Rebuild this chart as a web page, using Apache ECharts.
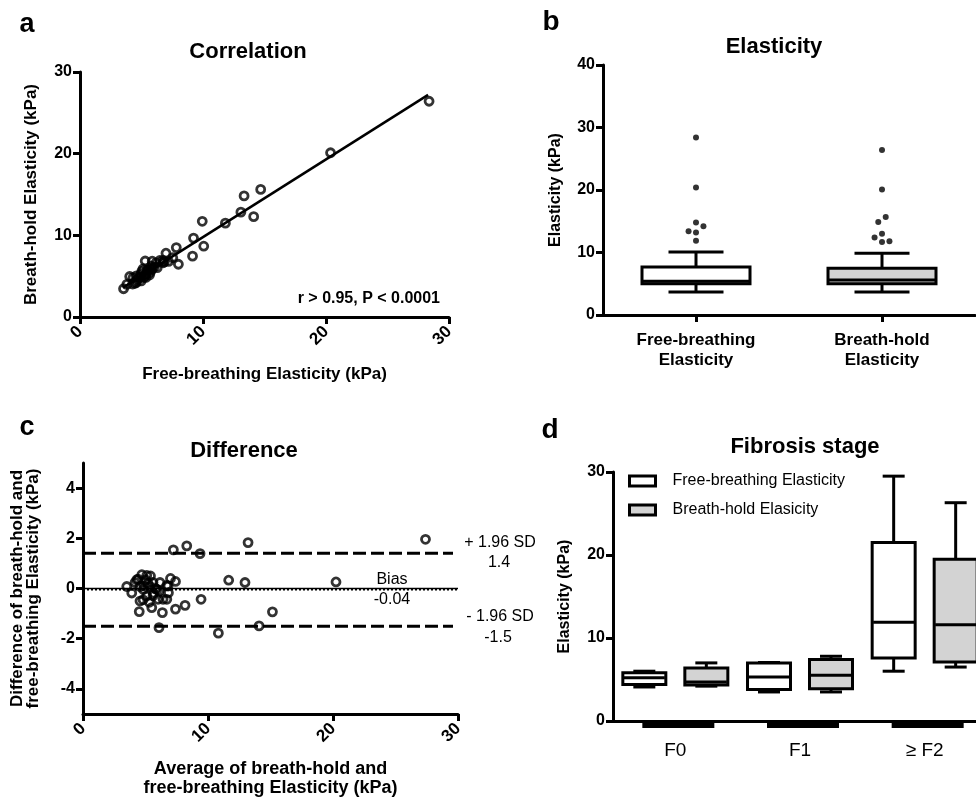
<!DOCTYPE html>
<html><head><meta charset="utf-8">
<script src="https://cdn.jsdelivr.net/npm/echarts@6/dist/echarts.min.js"></script>
<style>html,body{margin:0;padding:0;background:#fff}#c{width:976px;height:798px}</style>
</head><body><div id="c"></div>
<script>
// ---- Panel a / c : paired measurements (kPa) ----
const freeBreathing = [28.38,20.37,14.12,13.08,11.82,13.34,14.69,9.94,10.06,9.15,8.00,9.23,7.83,6.99,5.87,5.30,4.04,7.20,7.54,6.76,6.28,3.54,3.81,4.31,5.36,4.98,5.65,4.48,5.54,5.12,6.49,6.75,5.79,4.95,4.81,5.40,5.88,4.60,5.30,4.28,4.58,5.46,6.05,5.72,4.59,6.85,5.18,5.03,4.95,5.80,6.19];
const breathHold    = [26.42,20.11,12.29,12.84,11.49,14.83,15.62,11.72,8.67,7.45,6.46,9.66,8.50,7.81,6.83,6.86,4.96,6.80,7.26,6.64,6.04,3.46,3.99,4.81,4.84,4.43,5.15,4.13,5.73,5.88,6.92,6.92,6.22,5.25,4.85,5.32,5.92,4.52,5.10,4.04,5.03,5.75,6.15,5.48,4.22,6.75,4.83,5.58,4.85,5.80,6.62];
const fitLineX = [3.5, 28.3];
const fitLineY = [3.6, 27.2];
const corrText = 'r > 0.95, P < 0.0001';

// ---- Panel b : box plots (min, Q1, median, Q3, max) ----
const boxCategories = ['Free-breathing\nElasticity', 'Breath-hold\nElasticity'];
const boxStats = [[3.7, 5.0, 5.4, 7.7, 10.1], [3.7, 5.0, 5.6, 7.5, 9.9]];
const outliersFree   = [[0, 28.4], [0, 20.4], [0, 14.8], [0.04, 14.2], [-0.04, 13.4], [0, 13.2], [0, 11.9]];
const outliersBreath = [[1, 26.4], [1, 20.1], [1.02, 15.7], [0.98, 14.9], [1, 13.0], [0.96, 12.4], [1, 11.7], [1.04, 11.8]];

// ---- Panel c : Bland-Altman limits ----
const limitUpper = 1.4, biasValue = -0.04, limitLower = -1.5;
const limitLineX = [0, 29.6];
const diffTicks = [-4, -2, 0, 2, 4];

// ---- Panel d : fibrosis stage box plots ----
const stageCategories = ['F0', 'F1', '\u2265 F2'];
const stageFree   = [[4.1, 4.4, 5.2, 5.8, 6.0], [3.5, 3.8, 5.3, 7.0, 7.05], [6.0, 7.6, 11.9, 21.5, 29.5]];
const stageBreath = [[4.2, 4.35, 4.7, 6.4, 7.0], [3.5, 3.9, 5.5, 7.4, 7.8], [6.5, 7.1, 11.6, 19.5, 26.3]];
const seriesNames = ['Free-breathing Elasticity', 'Breath-hold Elasicity'];

const FONT = '"Liberation Sans", Arial, sans-serif';
const chart = echarts.init(document.getElementById('c'), null, {renderer: 'canvas'});

function lbl(size, extra) {
  return Object.assign({color: '#000', fontWeight: 'bold', fontSize: size, fontFamily: FONT}, extra || {});
}
function axisBase(extra) {
  return Object.assign({
    axisLine: {show: true, onZero: false, lineStyle: {color: '#000', width: 3}},
    axisTick: {show: true, length: 7, lineStyle: {color: '#000', width: 3}},
    splitLine: {show: false},
    axisLabel: lbl(16),
    nameTextStyle: lbl(17),
    nameLocation: 'middle'
  }, extra);
}

function boxRender(offset, boxW, capW, fill) {
  return function (params, api) {
    const cat = api.value(0);
    const p = [1, 2, 3, 4, 5].map(i => api.coord([cat, api.value(i)]));
    const x = p[0][0] + offset;
    const yMin = p[0][1], yQ1 = p[1][1], yMed = p[2][1], yQ3 = p[3][1], yMax = p[4][1];
    const ls = {stroke: '#000', lineWidth: 3, fill: null};
    return {type: 'group', children: [
      {type: 'line', shape: {x1: x, y1: yQ3, x2: x, y2: yMax}, style: ls},
      {type: 'line', shape: {x1: x, y1: yQ1, x2: x, y2: yMin}, style: ls},
      {type: 'line', shape: {x1: x - capW / 2, y1: yMax, x2: x + capW / 2, y2: yMax}, style: ls},
      {type: 'line', shape: {x1: x - capW / 2, y1: yMin, x2: x + capW / 2, y2: yMin}, style: ls},
      {type: 'rect', shape: {x: x - boxW / 2, y: yQ3, width: boxW, height: yQ1 - yQ3}, style: {fill: fill, stroke: '#000', lineWidth: 3}},
      {type: 'line', shape: {x1: x - boxW / 2 + 1, y1: yMed, x2: x + boxW / 2 - 1, y2: yMed}, style: ls}
    ]};
  };
}

const scatterA = freeBreathing.map((f, i) => [f, breathHold[i]]);
const scatterC = freeBreathing.map((f, i) => [(f + breathHold[i]) / 2, f - breathHold[i]]);
const openCircle = {color: 'rgba(0,0,0,0)', borderColor: '#000', borderWidth: 2.8};

function txt(text, x, y, size, weight, align) {
  return {type: 'text', x: x, y: y, style: {text: text, fill: '#000', font: (weight || 'normal') + ' ' + size + 'px ' + FONT, textAlign: align || 'center', textVerticalAlign: 'middle'}};
}

const option = {
  backgroundColor: '#fff',
  animation: false,
  grid: [
    {left: 80, top: 72, width: 369, height: 245, containLabel: false, outerBoundsMode: 'none'},
    {left: 603, top: 65, width: 372, height: 250, containLabel: false, outerBoundsMode: 'none'},
    {left: 83, top: 463, width: 375, height: 251, containLabel: false, outerBoundsMode: 'none'},
    {left: 613, top: 472, width: 374, height: 249, containLabel: false, outerBoundsMode: 'none'}
  ],
  xAxis: [
    axisBase({gridIndex: 0, type: 'value', min: 0, max: 30, interval: 10, name: 'Free-breathing Elasticity (kPa)', nameGap: 49,
      axisLabel: lbl(17, {rotate: 45, margin: 12})}),
    axisBase({gridIndex: 1, type: 'category', data: boxCategories,
      axisTick: {show: true, alignWithLabel: true, length: 7, lineStyle: {color: '#000', width: 3}},
      axisLabel: lbl(17, {lineHeight: 20, margin: 15, interval: 0})}),
    {gridIndex: 1, type: 'value', min: -0.5, max: 1.5, show: false},
    axisBase({gridIndex: 2, type: 'value', min: 0, max: 30, interval: 10, name: 'Average of breath-hold and\nfree-breathing Elasticity (kPa)', nameGap: 46,
      nameTextStyle: lbl(18, {lineHeight: 19, verticalAlign: 'top'}),
      axisLabel: lbl(17, {rotate: 45, margin: 12})}),
    axisBase({gridIndex: 3, type: 'category', data: stageCategories, axisTick: {show: false},
      axisLabel: {color: '#000', fontSize: 19, fontFamily: FONT, margin: 20, interval: 0}})
  ],
  yAxis: [
    axisBase({gridIndex: 0, type: 'value', min: 0, max: 30, interval: 10, name: 'Breath-hold Elasticity (kPa)', nameGap: 40}),
    axisBase({gridIndex: 1, type: 'value', min: 0, max: 40, interval: 10, name: 'Elasticity (kPa)', nameGap: 39,
      nameTextStyle: lbl(16)}),
    axisBase({gridIndex: 2, type: 'value', min: -5, max: 5, name: 'Difference of breath-hold and\nfree-breathing Elasticity (kPa)', nameGap: 42,
      nameTextStyle: lbl(17, {lineHeight: 16}),
      axisLabel: lbl(16, {customValues: diffTicks}),
      axisTick: {show: true, length: 7, lineStyle: {color: '#000', width: 3}, customValues: diffTicks}}),
    axisBase({gridIndex: 3, type: 'value', min: 0, max: 30, interval: 10, name: 'Elasticity (kPa)', nameGap: 40,
      nameTextStyle: lbl(16)})
  ],
  legend: {
    left: 628, top: 473, orient: 'vertical', padding: 0, itemWidth: 26, itemHeight: 10, itemGap: 13,
    selectedMode: false,
    textStyle: {color: '#000', fontSize: 16, fontFamily: FONT, padding: [0, 0, 0, 12]},
    data: [
      {name: seriesNames[0], icon: 'rect', itemStyle: {color: '#fff', borderColor: '#000', borderWidth: 3}},
      {name: seriesNames[1], icon: 'rect', itemStyle: {color: '#d3d3d3', borderColor: '#000', borderWidth: 3}}
    ]
  },
  series: [
    // a
    {type: 'line', xAxisIndex: 0, yAxisIndex: 0, data: fitLineX.map((x, i) => [x, fitLineY[i]]), symbol: 'none',
      lineStyle: {color: '#000', width: 2.5}, z: 2, silent: true},
    {type: 'scatter', xAxisIndex: 0, yAxisIndex: 0, data: scatterA, symbol: 'circle', symbolSize: 8, itemStyle: openCircle, z: 3},
    // b
    {type: 'custom', xAxisIndex: 1, yAxisIndex: 1, renderItem: boxRender(0, 108, 55, '#fff'),
      data: [[0].concat(boxStats[0])], encode: {x: 0, y: [1, 2, 3, 4, 5]}},
    {type: 'custom', xAxisIndex: 1, yAxisIndex: 1, renderItem: boxRender(0, 108, 55, '#d3d3d3'),
      data: [[1].concat(boxStats[1])], encode: {x: 0, y: [1, 2, 3, 4, 5]}},
    {type: 'scatter', xAxisIndex: 2, yAxisIndex: 1, data: outliersFree.concat(outliersBreath), symbol: 'circle', symbolSize: 6, itemStyle: {color: '#000'}},
    // c
    {type: 'line', xAxisIndex: 3, yAxisIndex: 2, data: limitLineX.map(x => [x, limitUpper]), symbol: 'none',
      lineStyle: {color: '#000', width: 3, type: [13, 5]}, silent: true},
    {type: 'line', xAxisIndex: 3, yAxisIndex: 2, data: limitLineX.map(x => [x, limitLower]), symbol: 'none',
      lineStyle: {color: '#000', width: 3, type: [13, 5]}, silent: true},
    {type: 'line', xAxisIndex: 3, yAxisIndex: 2, data: [[0, 0], [30, 0]], symbol: 'none',
      lineStyle: {color: '#000', width: 1.5}, silent: true},
    {type: 'line', xAxisIndex: 3, yAxisIndex: 2, data: [[0, biasValue], [30, biasValue]], symbol: 'none',
      lineStyle: {color: '#000', width: 2, type: [2, 2]}, silent: true},
    {type: 'scatter', xAxisIndex: 3, yAxisIndex: 2, data: scatterC, symbol: 'circle', symbolSize: 8, itemStyle: openCircle, z: 3},
    // d
    {type: 'custom', name: seriesNames[0], xAxisIndex: 4, yAxisIndex: 3, renderItem: boxRender(-31, 43, 22, '#fff'),
      itemStyle: {color: '#fff', borderColor: '#000'},
      data: stageFree.map((s, i) => [i].concat(s)), encode: {x: 0, y: [1, 2, 3, 4, 5]}},
    {type: 'custom', name: seriesNames[1], xAxisIndex: 4, yAxisIndex: 3, renderItem: boxRender(31, 43, 22, '#d3d3d3'),
      itemStyle: {color: '#d3d3d3', borderColor: '#000'},
      data: stageBreath.map((s, i) => [i].concat(s)), encode: {x: 0, y: [1, 2, 3, 4, 5]}},
    {type: 'custom', xAxisIndex: 4, yAxisIndex: 3, clip: false, silent: true,
      data: stageCategories.map((c, i) => [i, 0]), encode: {x: 0, y: 1},
      renderItem: function (params, api) {
        const p = api.coord([api.value(0), 0]);
        return {type: 'rect', shape: {x: p[0] - 33, y: p[1] + 1, width: 72, height: 6}, style: {fill: '#000'}};
      }}
  ],
  graphic: [
    txt('a', 27, 25, 27, 'bold'),
    txt('b', 551, 22, 28, 'bold'),
    txt('c', 27, 428, 27, 'bold'),
    txt('d', 550, 430, 28, 'bold'),
    txt('Correlation', 248, 52, 22, 'bold'),
    txt('Elasticity', 774, 47, 22, 'bold'),
    txt('Difference', 244, 451, 22, 'bold'),
    txt('Fibrosis stage', 805, 447, 22, 'bold'),
    txt(corrText, 440, 299, 16, 'bold', 'right'),
    txt('+ 1.96 SD', 500, 543, 16),
    txt(String(limitUpper), 499, 563, 16),
    txt('Bias', 392, 580, 16),
    txt(String(biasValue), 392, 600, 16),
    txt('- 1.96 SD', 500, 617, 16),
    txt(String(limitLower), 498, 638, 16)
  ]
};
chart.setOption(option);
</script>
</body></html>
